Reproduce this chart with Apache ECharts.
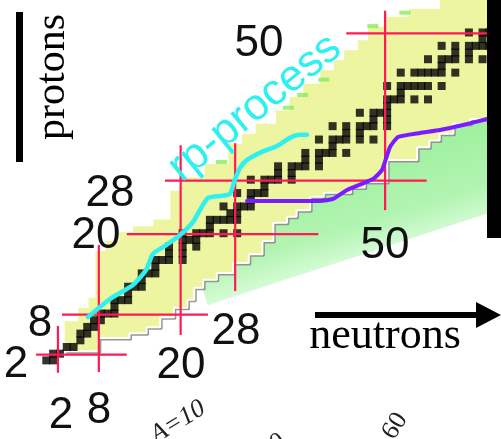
<!DOCTYPE html>
<html><head><meta charset="utf-8">
<script src="https://cdn.jsdelivr.net/npm/echarts/dist/echarts.min.js"></script>
<style>html,body{margin:0;padding:0;background:#fff}#c{width:501px;height:439px}</style>
</head><body><div id="c"></div>
<script>
// ---- data (N = neutrons, Z = protons) ----
// stable nuclides: N values for Z = 1 .. 50
const stableZStart = 1;
const stableN = [
  [0,1],[1,2],[3,4],[5],[5,6],[6,7],[7,8],[8,9,10],[10],[10,11,12],
  [12],[12,13,14],[14],[14,15,16],[16],[16,17,18,20],[18,20],[18,20,22],[20,21,22],[20,22,23,24,26,28],
  [24],[24,25,26,27,28],[27,28],[26,28,29,30],[30],[28,30,31,32],[32],[30,32,33,34,36],[34,36],[34,36,37,38,40],
  [38,40],[38,40,41,42,44],[42],[40,42,43,44,46,48],[44,46],[42,44,46,47,48,50],[48,50],[46,48,49,50],[50],[50,51,52,54,56],
  [52],[50,52,53,54,55,56,58],[],[52,54,55,56,57,58,60],[58],[56,58,59,60,62,64],[60,62],[58,60,62,63,64,65,66,68],[64,66],[62,64,65,66,67,68]
];
// proton-rich edge of known nuclei (staircase)
const protonEdge = [[3,2.5],[3,7],[5,7],[5,9],[6.5,9],[6.5,10.5],[7.5,10.5],[7.5,17.5],[9,17.5],[9,19],[11,19],[11,20.3],[13,20.3],[13,21.2],[16,21.2],[16,22.2],[18.5,22.2],[18.5,26.5],[20,26.5],[20,28.5],[23.5,28.5],[23.5,30.5],[27,30.5],[27,33.5],[29,33.5],[29,35],[31,35],[31,36.5],[34,36.5],[34,38.5],[36,38.5],[36,40.5],[38,40.5],[38,42.5],[40.5,42.5],[40.5,44.5],[42.5,44.5],[42.5,46],[44,46],[44,47.5],[46,47.5],[46,49],[47.5,49],[47.5,51],[50,51],[50,52.5],[53.5,52.5],[53.5,53.7],[58,53.7],[58,55.5],[68,55.5]];
// neutron-rich edge of known nuclei (staircase)
const neutronEdge = [[3,2.5],[8,2.5],[8,4.5],[12.5,4.5],[12.5,5.2],[15,5.2],[15,6.1],[17,6.1],[17,7.6],[19,7.6],[19,9],[21,9],[21,10.2],[22,10.2],[22,12],[23.3,12],[23.3,13.2],[25.3,13.2],[25.3,14.2],[27.7,14.2],[27.7,15.7],[30,15.7],[30,17],[32,17],[32,19],[33.6,19],[33.6,21.7],[35.6,21.7],[35.6,22.6],[37,22.6],[37,23.6],[39,23.6],[39,25.6],[41,25.6],[41,26.2],[43,26.2],[45,26.2],[45,27],[47,27],[47,27.8],[50.3,27.8],[50.3,31.1],[54.7,31.1],[54.7,33],[56.5,33],[56.5,34],[58,34],[58,35],[60,35],[60,36.5],[62.5,36.5],[62.5,37.2],[68,37.2]];
// green (neutron-rich, unknown) region
const greenRegion = [[24,9.4],[68,24.1],[68,42],[56,36],[50,33],[43,28.5],[39,27],[33,23],[30,19],[27,16.5],[23.5,14],[23,12.5]];
// rp-process path
const rpPath = [[6.41,7.64],[9.64,10.32],[13.01,12.42],[14.92,14.66],[15.94,17.05],[17.71,18.25],[19.91,19.89],[21.81,21.83],[22.84,23.63],[24.01,25.42],[25.78,25.72],[27.24,26.02],[27.83,27.81],[28.71,29.9],[29.74,31.1],[31.94,32.3],[34.14,33.2],[36.04,34.4],[37.51,34.85],[38.53,34.85]];
// purple path
const purplePath = [[29.74,24.97],[40.45,24.97],[42.35,25.27],[44.41,26.62],[48.22,28.26],[49.54,29.6],[50.72,33.04],[51.89,34.53],[55.12,35.13],[58.05,35.58],[61.43,36.32],[64.95,37.22]];
// newly found nuclei (light green dashes)
const newN = [37.9, 41.0, 35.8, 48.2, 52.9, 26.0];
const newZ = [40.8, 43.1, 38.9, 51.1, 53.1, 30.8];
// magic-number lines: [value, from, to]
const magicZLines = [[2,-1.2,12.1],[8,2.6,24.0],[20,12.1,40.2],[28,17.7,56.1],[50,44.3,68]];
const magicNLines = [[2,-0.7,6.3],[8,-0.6,18.4],[20,4.95,33.3],[28,11.5,33.6],[50,23.6,53.4]];

// ---- build ----
const stableData = [];
stableN.forEach((ns, i) => ns.forEach(n => stableData.push([n, i + stableZStart])));
const segs = [];
magicZLines.forEach(m => segs.push([m[1], m[0], m[2], m[0]]));
magicNLines.forEach(m => segs.push([m[0], m[1], m[0], m[2]]));
const yellowPoly = protonEdge.concat(neutronEdge.slice().reverse());
const newData = newN.map((n, i) => [n, newZ[i]]);

function polySeries(points, fill, z) {
  return {
    type: 'custom', z: z, silent: true, data: [[points[0][0], points[0][1]]],
    renderItem: function (params, api) {
      return { type: 'polygon', shape: { points: points.map(p => api.coord(p)) }, style: { fill: fill } };
    }
  };
}

const chart = echarts.init(document.getElementById('c'), null, { renderer: 'canvas' });
const greenFill = new echarts.graphic.LinearGradient(390, 140, 425, 255, [
  { offset: 0, color: '#9cf09c' }, { offset: 0.6, color: '#b2f4b2' }, { offset: 1, color: '#e8ffe8' }], true);

const T = (x, y, text, font, fill, rot) => ({ type: 'text', z: 100, x: x, y: y, rotation: rot || 0,
  style: { text: text, font: font, fill: fill, align: 'center', verticalAlign: 'middle' } });
const NUM = '44px "Liberation Sans"';

chart.setOption({
  animation: false,
  grid: { left: 0, right: 0, top: 0, bottom: 0 },
  xAxis: { type: 'value', min: -6.5, max: 67, show: false },
  yAxis: { type: 'value', min: -10.6, max: 55, show: false },
  series: [
    polySeries(greenRegion, greenFill, 1),
    polySeries(yellowPoly, '#edf5a0', 2),
    { type: 'line', z: 3, data: neutronEdge, showSymbol: false, silent: true,
      lineStyle: { color: '#ffffff', width: 2, shadowColor: 'rgba(140,140,140,0.9)', shadowOffsetX: 1.5, shadowOffsetY: 1.5, shadowBlur: 0 } },
    { type: 'scatter', z: 4, data: newData, symbol: 'rect', symbolSize: [11, 4], itemStyle: { color: '#86ee5a' }, silent: true },
    { type: 'scatter', z: 5, data: stableData, symbol: 'rect', symbolSize: 8, symbolOffset: [2, -1],
      itemStyle: { color: '#000000' }, silent: true },
    { type: 'custom', z: 6, data: segs, encode: { x: [0, 2], y: [1, 3] }, silent: true,
      renderItem: function (params, api) {
        const p1 = api.coord([api.value(0), api.value(1)]);
        const p2 = api.coord([api.value(2), api.value(3)]);
        return { type: 'line', shape: { x1: p1[0], y1: p1[1], x2: p2[0], y2: p2[1] },
                 style: { stroke: '#ff1a55', lineWidth: 2.2 } };
      } },
    { type: 'line', z: 7, data: rpPath, showSymbol: false, smooth: 0.2, silent: true,
      lineStyle: { color: '#2ef0ee', width: 4.5, cap: 'round', join: 'round' } },
    { type: 'line', z: 8, data: purplePath, showSymbol: false, smooth: 0.15, silent: true,
      lineStyle: { color: '#7a1cff', width: 4, cap: 'round', join: 'round' } }
  ],
  graphic: [
    { type: 'rect', z: 100, shape: { x: 16, y: 12, width: 7, height: 150 }, style: { fill: '#000' } },
    { type: 'rect', z: 100, shape: { x: 487, y: 0, width: 14, height: 238 }, style: { fill: '#000' } },
    { type: 'line', z: 100, shape: { x1: 315, y1: 315, x2: 480, y2: 315 }, style: { stroke: '#000', lineWidth: 6 } },
    { type: 'polygon', z: 100, shape: { points: [[476, 302], [501, 315], [476, 328]] }, style: { fill: '#000' } },
    T(53, 77, 'protons', '42px "Liberation Serif"', '#000', Math.PI / 2),
    T(385, 336, 'neutrons', '44px "Liberation Serif"', '#000'),
    T(255, 108, 'rp-process', '44px "Liberation Sans"', '#2ef0ee', 0.68),
    T(259, 44, '50', NUM, '#111'),
    T(110, 194, '28', NUM, '#111'),
    T(96, 236, '20', NUM, '#111'),
    T(40, 324, '8', NUM, '#111'),
    T(16, 365, '2', NUM, '#111'),
    T(61, 416, '2', NUM, '#111'),
    T(99, 411, '8', NUM, '#111'),
    T(181, 366, '20', NUM, '#111'),
    T(236, 332, '28', NUM, '#111'),
    T(385, 246, '50', NUM, '#111'),
    T(178, 422, 'A=10', 'italic 26px "Liberation Serif"', '#222', 0.55),
    T(272, 446, '20', '26px "Liberation Serif"', '#222', 0.5),
    T(395, 426, '60', '26px "Liberation Serif"', '#222', 1.0)
  ]
});
</script></body></html>
